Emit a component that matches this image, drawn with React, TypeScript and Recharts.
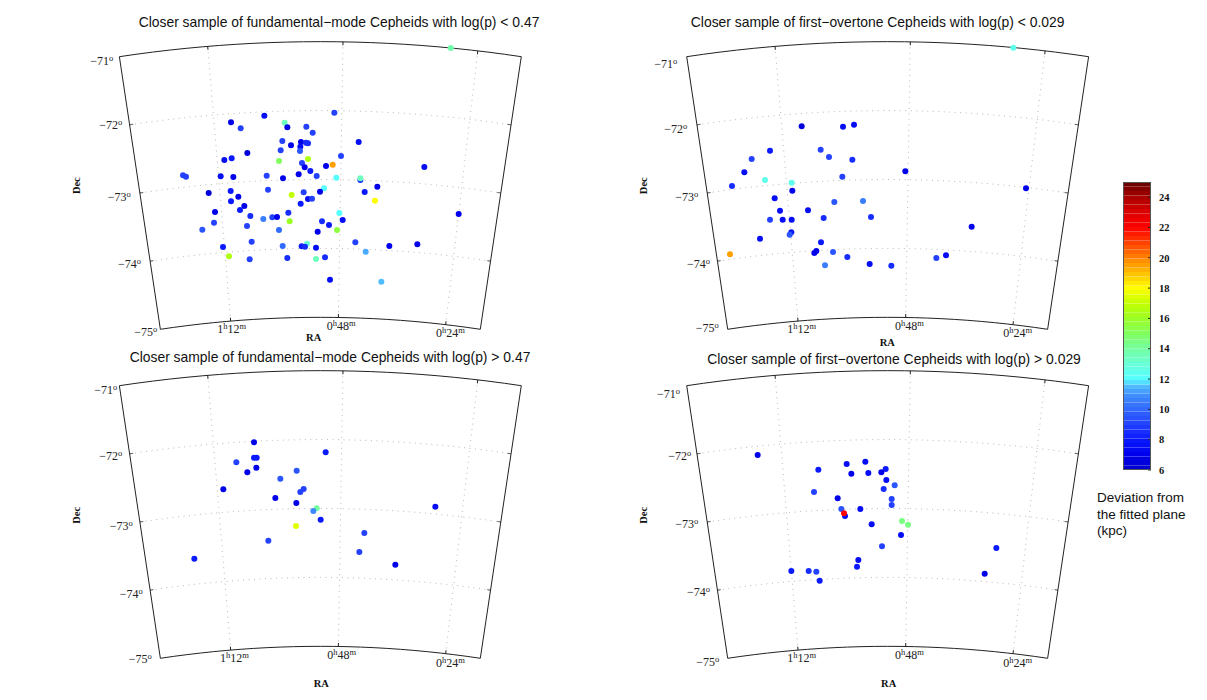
import { Bar, BarChart, ReferenceDot, Scatter, ScatterChart, XAxis, YAxis } from "recharts";

type Star = [number, number, number]; // map x, map y, deviation in kpc

// map-plane units are 1/3 px, measured from each panel's own corner
const fundShort: Star[] = [
  [1172, 114, 13.8], [823, 308, 9], [613, 317, 7.5], [513, 337, 7], [674, 338, 13.5], [682, 352, 7],
  [542, 355, 9], [739, 350, 9], [758, 368, 9], [667, 393, 9], [723, 396, 7], [738, 398, 8.5],
  [744, 400, 8.5], [896, 396, 7.5], [693, 406, 7], [721, 410, 7.5], [662, 421, 9], [720, 423, 9.5],
  [562, 429, 6.5], [843, 438, 9], [515, 445, 8], [493, 450, 7.5], [744, 447, 16.5], [657, 453, 15],
  [726, 459, 9], [798, 468, 7], [818, 464, 19.5], [734, 472, 7], [1093, 471, 7.5], [751, 483, 8],
  [716, 493, 7], [369, 496, 9], [378, 500, 9], [482, 499, 7.5], [520, 501, 7], [620, 497, 9],
  [669, 505, 7], [770, 498, 9], [829, 503, 12], [901, 510, 8.5], [901, 505, 13.5], [952, 530, 7],
  [624, 539, 9], [512, 543, 8], [792, 535, 12], [731, 547, 9], [780, 545, 7], [914, 546, 8],
  [446, 549, 6.5], [535, 560, 7], [695, 555, 17], [744, 567, 7.5], [756, 566, 9], [945, 572, 18],
  [513, 574, 8], [722, 581, 8], [553, 588, 7], [540, 600, 8], [465, 606, 7], [685, 608, 8.5],
  [1196, 612, 7], [838, 609, 12], [571, 618, 8.5], [610, 627, 10.5], [637, 622, 9], [651, 621, 7],
  [848, 630, 7.5], [786, 634, 8.5], [689, 634, 16], [462, 638, 9], [807, 645, 8], [561, 648, 9],
  [427, 659, 9.5], [657, 660, 10], [773, 665, 7], [831, 660, 15.5], [575, 695, 9], [886, 697, 9],
  [741, 701, 13], [489, 711, 8], [668, 708, 10], [725, 709, 8], [735, 710, 8.5], [768, 713, 7.5],
  [988, 708, 7], [1072, 703, 7], [917, 725, 11.3], [507, 739, 16.5], [682, 744, 8.5], [569, 748, 9],
  [768, 747, 13.5], [795, 742, 8.5], [810, 809, 7.5], [964, 815, 11.5],
];

const overtoneShort: Star[] = [
  [1180, 113, 12.5], [545, 349, 6.5], [669, 350, 7.5], [702, 344, 7.5], [450, 422, 8], [602, 419, 9],
  [627, 441, 9], [395, 447, 9], [697, 449, 8.5], [373, 487, 7.5], [856, 484, 7], [667, 500, 9],
  [435, 510, 12.5], [515, 518, 12.5], [336, 528, 8.5], [517, 542, 7], [1218, 535, 7], [464, 565, 7.5],
  [643, 576, 9.5], [729, 573, 10.5], [480, 602, 7.5], [564, 601, 7.5], [753, 621, 8.5], [611, 624, 8.5],
  [450, 629, 9], [488, 629, 7.5], [515, 629, 7.5], [1055, 650, 7], [514, 667, 8], [509, 674, 9.5],
  [420, 686, 7.5], [603, 697, 8], [589, 723, 7], [583, 729, 7], [639, 726, 9.5], [330, 733, 19.5],
  [682, 741, 8.5], [978, 736, 7.5], [949, 744, 9], [749, 762, 7.5], [615, 766, 10.5], [814, 767, 8.5],
];

const fundLong: Star[] = [
  [582, 292, 7], [797, 322, 8], [582, 338, 8], [590, 338, 8], [529, 352, 9], [589, 368, 7],
  [562, 382, 7], [710, 377, 9.5], [661, 401, 9.5], [490, 433, 7], [731, 432, 9], [721, 441, 9],
  [646, 459, 7], [709, 474, 7], [1126, 485, 7.5], [770, 490, 14], [760, 498, 10.8], [782, 524, 8],
  [708, 543, 17.5], [913, 564, 9], [625, 587, 9], [898, 621, 9], [403, 641, 8], [1006, 659, 7],
];

const overtoneLong: Star[] = [
  [413, 330, 7], [736, 350, 7.5], [680, 357, 7.5], [797, 372, 8], [595, 374, 8], [784, 382, 7],
  [694, 386, 7], [745, 384, 7.5], [799, 405, 7.5], [824, 421, 9.5], [791, 432, 8.5], [582, 441, 9],
  [653, 460, 7], [815, 462, 9], [815, 480, 9], [664, 492, 9.5], [721, 492, 7.5], [675, 513, 7.5],
  [672, 505, 22], [846, 528, 14.5], [864, 539, 14.5], [755, 538, 7.5], [843, 570, 7.5], [786, 604, 9],
  [1129, 609, 8], [715, 645, 7.5], [711, 665, 8], [514, 678, 8], [566, 678, 8.5], [589, 680, 9],
  [1094, 686, 7], [599, 707, 8],
];

const decLines = [-71, -72, -73, -74, -75];
const raLines = [-4.78, 0.96, 6.69]; // projected angle of 1h12m, 0h48m, 0h24m
const decTickText = ["\u221271", "\u221272", "\u221273", "\u221274", "\u221275"];
const raTickText = [["1", "12"], ["0", "48"], ["0", "24"]];
const colorbarTicks = [6, 8, 10, 12, 14, 16, 18, 20, 22, 24];
const colorbarNote = ["Deviation from", "the fitted plane", "(kpc)"];

// jet-like map
const colorStops: [number, number, number, number][] = [
  [6, 0, 0, 205], [7, 0, 0, 235], [8, 10, 25, 255], [9, 35, 65, 255], [10, 50, 105, 255], [11, 65, 145, 255],
  [11.6, 85, 195, 255], [12, 85, 255, 255], [13, 105, 255, 215], [14, 115, 255, 160], [15, 130, 255, 95],
  [16, 155, 255, 35], [17, 195, 255, 0], [18, 255, 255, 0], [19, 255, 190, 0], [20, 255, 130, 0],
  [21, 255, 65, 0], [22, 255, 0, 0], [23, 220, 0, 0], [24, 170, 0, 0], [25, 100, 0, 0],
];

const PLANE_W = 1500;
const PLANE_H = 1050;
const SERIF = "'Liberation Serif', serif";
const SANS = "'Liberation Sans', sans-serif";

function kpcColor(v: number) {
  let i = 0;
  while (i < colorStops.length - 2 && v > colorStops[i + 1][0]) i++;
  const a = colorStops[i];
  const b = colorStops[i + 1];
  const t = Math.min(1, Math.max(0, (v - a[0]) / (b[0] - a[0])));
  const c = [1, 2, 3].map((k) => Math.round(a[k] + (b[k] - a[k]) * t));
  return `rgb(${c[0]},${c[1]},${c[2]})`;
}

// conic graticule, fitted to the frame corners
function project(angle: number, dec: number, dx: number, dy: number) {
  const r = 4055 + (dec + 71) * 206.75;
  const rad = (angle * Math.PI) / 180;
  return { x: 781 + dx + r * Math.sin(rad), y: 4150 + dy - r * Math.cos(rad) };
}

function parallel(dec: number, from: number, to: number, dx: number, dy: number) {
  const pts = [];
  for (let i = 0; i <= 24; i++) pts.push(project(from + ((to - from) * i) / 24, dec, dx, dy));
  return pts;
}

function meridian(angle: number, from: number, to: number, dx: number, dy: number) {
  return [project(angle, from, dx, dy), project(angle, to, dx, dy)];
}

type PanelProps = {
  left: number;
  top: number;
  dx: number;
  dy: number;
  stars: Star[];
  title: string;
  titleAt: number[];
  decLabels: number[][]; // right end, baseline
  raLabels: number[][]; // left end, baseline
  raAt: number[];
  decAt: number[];
};

const dotted = { stroke: "#b0b0b0", strokeWidth: 0.9, strokeDasharray: "1 4.5", fill: "none" };
const solid = { stroke: "#222", strokeWidth: 1, fill: "none" };
const noMark = () => <g />;

function SkyPanel({ left, top, dx, dy, stars, title, titleAt, decLabels, raLabels, raAt, decAt }: PanelProps) {
  const points = stars.map(([x, y, kpc]) => ({ x, y, kpc }));
  const EDGE = 8.55;
  return (
    <div style={{ position: "absolute", left, top }}>
      <ScatterChart width={500} height={350} margin={{ top: 0, right: 0, bottom: 0, left: 0 }}>
        <XAxis type="number" dataKey="x" domain={[0, PLANE_W]} hide />
        <YAxis type="number" dataKey="y" domain={[0, PLANE_H]} reversed hide />

        {decLines.slice(1, 4).map((d) => (
          <Scatter key={`p${d}`} data={parallel(d, -EDGE, EDGE, dx, dy)} line={dotted} shape={noMark} isAnimationActive={false} />
        ))}
        {raLines.map((a) => (
          <Scatter key={`m${a}`} data={meridian(a, -71, -75, dx, dy)} line={dotted} shape={noMark} isAnimationActive={false} />
        ))}

        {decLines.slice(1, 4).flatMap((d) => [
          <Scatter key={`tl${d}`} data={parallel(d, -EDGE, -EDGE + 0.16, dx, dy)} line={solid} shape={noMark} isAnimationActive={false} />,
          <Scatter key={`tr${d}`} data={parallel(d, EDGE - 0.16, EDGE, dx, dy)} line={solid} shape={noMark} isAnimationActive={false} />,
        ])}
        {raLines.flatMap((a) => [
          <Scatter key={`tt${a}`} data={meridian(a, -71, -71.05, dx, dy)} line={solid} shape={noMark} isAnimationActive={false} />,
          <Scatter key={`tb${a}`} data={meridian(a, -75, -74.95, dx, dy)} line={solid} shape={noMark} isAnimationActive={false} />,
        ])}

        <Scatter data={parallel(-71, -EDGE, EDGE, dx, dy)} line={solid} shape={noMark} isAnimationActive={false} />
        <Scatter data={parallel(-75, -EDGE, EDGE, dx, dy)} line={solid} shape={noMark} isAnimationActive={false} />
        <Scatter data={meridian(-EDGE, -71, -75, dx, dy)} line={solid} shape={noMark} isAnimationActive={false} />
        <Scatter data={meridian(EDGE, -71, -75, dx, dy)} line={solid} shape={noMark} isAnimationActive={false} />

        <Scatter
          data={points}
          isAnimationActive={false}
          shape={(p: any) => <circle cx={p.cx} cy={p.cy} r={3} fill={kpcColor(p.kpc ?? p.payload.kpc)} />}
        />

        <ReferenceDot
          x={titleAt[0]}
          y={titleAt[1]}
          ifOverflow="visible"
          shape={(p: any) => (
            <text x={p.cx} y={p.cy} textAnchor="middle" fontFamily={SANS} fontSize={13.9} fill="#111">
              {title}
            </text>
          )}
        />
        {decLabels.map(([x, y], i) => (
          <ReferenceDot
            key={`dl${i}`}
            x={x}
            y={y}
            ifOverflow="visible"
            shape={(p: any) => (
              <text x={p.cx} y={p.cy} textAnchor="end" fontFamily={SERIF} fontSize={12} fill="#222">
                {decTickText[i]}
                <tspan dy={-4} fontSize={8.5}>o</tspan>
              </text>
            )}
          />
        ))}
        {raLabels.map(([x, y], i) => (
          <ReferenceDot
            key={`rl${i}`}
            x={x}
            y={y}
            ifOverflow="visible"
            shape={(p: any) => (
              <text x={p.cx} y={p.cy} fontFamily={SERIF} fontSize={12} fill="#222">
                {raTickText[i][0]}
                <tspan dy={-4} fontSize={8.5}>h</tspan>
                <tspan dy={4}>{raTickText[i][1]}</tspan>
                <tspan dy={-4} fontSize={8.5}>m</tspan>
              </text>
            )}
          />
        ))}
        <ReferenceDot
          x={raAt[0]}
          y={raAt[1]}
          ifOverflow="visible"
          shape={(p: any) => (
            <text x={p.cx} y={p.cy} textAnchor="middle" fontFamily={SERIF} fontSize={10.5} fontWeight="bold" fill="#111">
              RA
            </text>
          )}
        />
        <ReferenceDot
          x={decAt[0]}
          y={decAt[1]}
          ifOverflow="visible"
          shape={(p: any) => (
            <text
              x={p.cx}
              y={p.cy}
              textAnchor="middle"
              fontFamily={SERIF}
              fontSize={10.5}
              fontWeight="bold"
              fill="#111"
              transform={`rotate(-90 ${p.cx} ${p.cy})`}
            >
              Dec
            </text>
          )}
        />
      </ScatterChart>
    </div>
  );
}

const LEVELS = 64;
const levelRow: Record<string, number | string> = { name: "kpc", base: 6 };
for (let i = 0; i < LEVELS; i++) levelRow[`l${i}`] = 19 / LEVELS;
const levelData = [levelRow];

function Colorbar() {
  return (
    <div style={{ position: "absolute", left: 1123, top: 172 }}>
      <BarChart width={58} height={308} data={levelData} barCategoryGap={0} margin={{ top: 10, right: 0, bottom: 10, left: 0 }}>
        <XAxis dataKey="name" hide />
        <YAxis
          orientation="right"
          type="number"
          domain={[6, 25]}
          allowDataOverflow
          ticks={colorbarTicks}
          interval={0}
          width={30}
          axisLine={false}
          tickSize={-3}
          tickMargin={11}
          tickLine={{ stroke: "#222" }}
          tick={{ fontFamily: SERIF, fontSize: 10.5, fontWeight: "bold", fill: "#111", textAnchor: "start" }}
        />
        <Bar dataKey="base" stackId="bar" fill="none" isAnimationActive={false} />
        {Array.from({ length: LEVELS }).map((_, i) => (
          <Bar
            key={i}
            dataKey={`l${i}`}
            stackId="bar"
            fill={kpcColor(6 + (19 * (i + 0.5)) / LEVELS)}
            isAnimationActive={false}
          />
        ))}
      </BarChart>
      <div style={{ position: "absolute", left: 0, top: 10, width: 28, height: 288, boxSizing: "border-box", border: "1px solid #555" }} />
    </div>
  );
}

export default function App() {
  return (
    <div style={{ position: "absolute", left: 0, top: 0, width: 1207, height: 700, background: "#fff", overflow: "hidden" }}>
      <SkyPanel
        left={60}
        top={10}
        dx={0}
        dy={0}
        stars={fundShort}
        title={"Closer sample of fundamental\u2212mode Cepheids with log(p) < 0.47"}
        titleAt={[837, 50]}
        decLabels={[[160, 165], [187, 358], [212, 572], [243, 775], [292, 978]]}
        raLabels={[[472, 968], [800, 960], [1128, 982]]}
        raAt={[761, 992]}
        decAt={[60, 527]}
      />
      <SkyPanel
        left={620}
        top={10}
        dx={22}
        dy={0}
        stars={overtoneShort}
        title={"Closer sample of first\u2212overtone Cepheids with log(p) < 0.029"}
        titleAt={[773, 50]}
        decLabels={[[172, 175], [202, 370], [235, 572], [270, 775], [296, 965]]}
        raLabels={[[502, 968], [825, 960], [1150, 982]]}
        raAt={[802, 1008]}
        decAt={[82, 527]}
      />
      <SkyPanel
        left={60}
        top={345}
        dx={0}
        dy={-18}
        stars={fundLong}
        title={"Closer sample of fundamental\u2212mode Cepheids with log(p) > 0.47"}
        titleAt={[810, 52]}
        decLabels={[[172, 148], [187, 346], [218, 556], [248, 760], [275, 955]]}
        raLabels={[[480, 952], [802, 942], [1128, 966]]}
        raAt={[784, 1027]}
        decAt={[60, 511]}
      />
      <SkyPanel
        left={620}
        top={345}
        dx={22}
        dy={-18}
        stars={overtoneLong}
        title={"Closer sample of first\u2212overtone Cepheids with log(p) > 0.029"}
        titleAt={[822, 56]}
        decLabels={[[180, 158], [214, 346], [235, 550], [270, 753], [298, 962]]}
        raLabels={[[502, 952], [825, 942], [1150, 966]]}
        raAt={[806, 1027]}
        decAt={[82, 511]}
      />
      <Colorbar />
      {colorbarNote.map((line, i) => (
        <div
          key={line}
          style={{ position: "absolute", left: 1097, top: 490 + i * 16.5, fontFamily: SANS, fontSize: 13.5, lineHeight: "16px", color: "#111", whiteSpace: "nowrap" }}
        >
          {line}
        </div>
      ))}
    </div>
  );
}
